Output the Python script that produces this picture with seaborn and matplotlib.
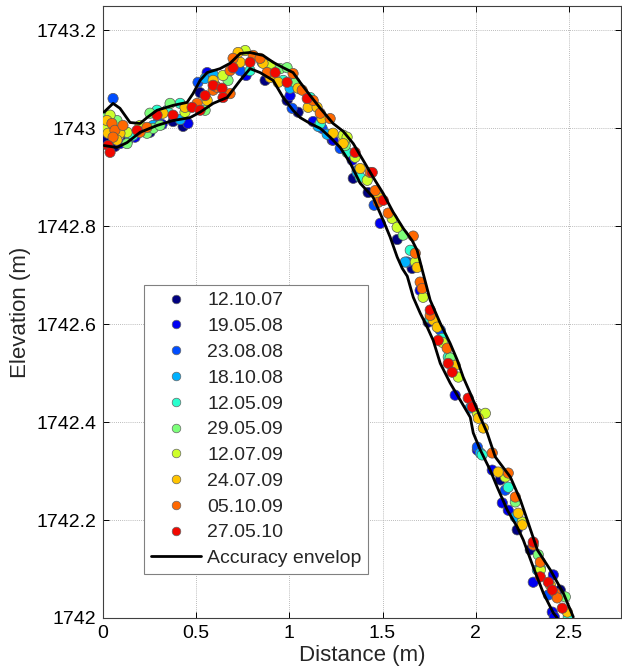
import numpy as np
import pandas as pd
import seaborn as sns
import matplotlib.pyplot as plt
from matplotlib.lines import Line2D
from matplotlib.ticker import FuncFormatter

dates = ['12.10.07', '19.05.08', '23.08.08', '18.10.08', '12.05.09',
         '29.05.09', '12.07.09', '24.07.09', '05.10.09', '27.05.10']

# survey points, one pair of lists per date
x_121007 = [0.016, 0.064, 0.134, 0.252, 0.376, 0.430, 0.521, 0.870, 0.988, 1.047,
            1.230, 1.343, 1.423, 1.579, 1.659, 1.745, 2.132, 2.223, 2.293, 2.454]
y_121007 = [1742.976, 1742.963, 1742.976, 1742.992, 1743.014, 1743.004, 1743.073, 1743.098, 1743.057, 1743.033,
            1742.976, 1742.898, 1742.869, 1742.773, 1742.714, 1742.604, 1742.282, 1742.180, 1742.139, 1742.057]

x_190508 = [0.091, 0.172, 0.317, 0.456, 0.559, 0.768, 1.004, 1.128, 1.235, 1.337, 1.488,
            1.702, 1.890, 2.009, 2.089, 2.143, 2.175, 2.309, 2.417, 2.411, 2.422]
y_190508 = [1742.969, 1742.982, 1743.008, 1743.010, 1743.114, 1743.108, 1743.067, 1743.014, 1742.976, 1742.935, 1742.806,
            1742.669, 1742.455, 1742.343, 1742.302, 1742.235, 1742.220, 1742.073, 1742.088, 1742.012, 1742.002]

x_230808 = [0.054, 0.124, 0.295, 0.510, 0.736, 1.015, 1.176, 1.273, 1.364, 1.455,
            1.633, 1.810, 2.009, 2.159, 2.390]
y_230808 = [1743.061, 1742.992, 1743.012, 1743.094, 1743.118, 1743.041, 1743.000, 1742.959, 1742.914, 1742.843,
            1742.727, 1742.588, 1742.349, 1742.261, 1742.047]

x_181008 = [0.145, 0.269, 0.414, 0.548, 0.591, 0.854, 1.004, 1.155, 1.203, 1.364,
            1.622, 1.767, 1.971, 2.025, 2.213, 2.331]
y_181008 = [1742.982, 1743.006, 1743.018, 1743.102, 1743.110, 1743.135, 1743.082, 1743.004, 1742.988, 1742.910,
            1742.727, 1742.612, 1742.429, 1742.337, 1742.206, 1742.098]

x_120509 = [0.161, 0.290, 0.344, 0.414, 0.601, 0.789, 0.967, 1.112, 1.166, 1.310, 1.380,
            1.649, 1.756, 1.821, 1.853, 2.035, 2.175, 2.347, 2.497]
y_120509 = [1742.986, 1743.037, 1743.037, 1743.051, 1743.088, 1743.118, 1743.098, 1743.063, 1743.010, 1742.951, 1742.900,
            1742.751, 1742.612, 1742.571, 1742.533, 1742.333, 1742.267, 1742.102, 1742.002]

x_290509 = [0.003, 0.075, 0.129, 0.236, 0.269, 0.306, 0.252, 0.360, 0.548, 0.671,
            0.951, 0.988, 1.031, 1.300, 1.611, 1.863, 2.213, 2.336, 2.481]
y_290509 = [1743.022, 1743.016, 1742.969, 1742.990, 1743.000, 1743.006, 1743.031, 1743.051, 1743.037, 1743.098,
            1743.122, 1743.124, 1743.094, 1742.965, 1742.782, 1742.531, 1742.237, 1742.129, 1742.043]

x_120709 = [0.038, 0.011, 0.129, 0.199, 0.440, 0.644, 0.763, 0.897, 1.289, 1.310, 1.353,
            1.418, 1.552, 1.579, 1.676, 1.718, 1.821, 1.907, 2.009, 2.052, 2.159, 2.250, 2.347]
y_120709 = [1743.027, 1743.002, 1742.992, 1743.006, 1743.033, 1743.108, 1743.159, 1743.129, 1742.986, 1742.982, 1742.941,
            1742.894, 1742.816, 1742.798, 1742.727, 1742.655, 1742.563, 1742.492, 1742.418, 1742.418, 1742.288, 1742.196, 1742.098]

x_240709 = [0.021, 0.027, 0.091, 0.075, 0.322, 0.440, 0.559, 0.591, 0.736, 0.725, 0.859,
            0.897, 0.940, 1.047, 1.101, 1.149, 1.176, 1.235, 1.289, 1.380, 1.477, 1.686,
            1.772, 1.794, 1.890, 2.014, 2.041, 2.121, 2.229, 2.250, 2.401, 2.492]
y_240709 = [1743.016, 1742.990, 1742.990, 1742.976, 1743.031, 1743.043, 1743.057, 1743.098, 1743.135, 1743.155, 1743.133,
            1743.104, 1743.094, 1743.082, 1743.043, 1743.043, 1743.020, 1742.990, 1742.969, 1742.918, 1742.859, 1742.716,
            1742.608, 1742.594, 1742.516, 1742.408, 1742.388, 1742.298, 1742.214, 1742.190, 1742.067, 1742.012]

x_051009 = [0.048, 0.064, 0.054, 0.107, 0.199, 0.236, 0.505, 0.591, 0.612, 0.682, 0.682,
            0.698, 0.806, 0.843, 0.881, 1.020, 1.069, 1.128, 1.166, 1.219, 1.434, 1.461,
            1.477, 1.531, 1.665, 1.676, 1.702, 1.713, 1.756, 1.847, 2.089, 2.175, 2.213,
            2.309, 2.347, 2.427, 2.438]
y_051009 = [1743.010, 1742.996, 1742.982, 1743.006, 1742.992, 1743.002, 1743.051, 1743.078, 1743.084, 1743.071, 1743.118,
            1743.143, 1743.149, 1743.143, 1743.114, 1743.112, 1743.078, 1743.057, 1743.031, 1743.020, 1742.910, 1742.873,
            1742.849, 1742.827, 1742.780, 1742.745, 1742.686, 1742.673, 1742.618, 1742.551, 1742.337, 1742.296, 1742.247,
            1742.149, 1742.114, 1742.051, 1742.041]

x_270510 = [0.027, 0.038, 0.183, 0.290, 0.376, 0.478, 0.521, 0.548, 0.591, 0.639, 0.644,
            0.698, 0.789, 0.924, 0.988, 1.096, 1.353, 1.445, 1.504, 1.756, 1.799, 1.853,
            1.874, 1.960, 1.982, 2.309, 2.347, 2.390, 2.411, 2.465]
y_270510 = [1742.965, 1742.951, 1742.996, 1743.027, 1743.027, 1743.043, 1743.037, 1743.067, 1743.088, 1743.082, 1743.063,
            1743.124, 1743.135, 1743.114, 1743.094, 1743.061, 1742.951, 1742.910, 1742.853, 1742.629, 1742.567, 1742.520,
            1742.502, 1742.449, 1742.431, 1742.155, 1742.084, 1742.073, 1742.057, 1742.020]

# accuracy envelope (upper and lower bound)
env_up_x = [0.005, 0.054, 0.091, 0.145, 0.199, 0.236, 0.290, 0.376, 0.451, 0.483, 0.521, 0.559,
            0.628, 0.682, 0.736, 0.789, 0.859, 0.913, 0.967, 1.020, 1.058, 1.112, 1.166, 1.235,
            1.289, 1.343, 1.396, 1.450, 1.504, 1.557, 1.611, 1.659, 1.686, 1.718, 1.756, 1.810,
            1.863, 1.901, 1.933, 1.971, 2.025, 2.062, 2.105, 2.186, 2.240, 2.277, 2.331, 2.401,
            2.470, 2.524]
env_up_y = [1743.033, 1743.051, 1743.041, 1743.012, 1743.010, 1743.022, 1743.037, 1743.047, 1743.053, 1743.071,
            1743.098, 1743.114, 1743.122, 1743.133, 1743.153, 1743.155, 1743.149, 1743.135, 1743.124, 1743.114,
            1743.094, 1743.067, 1743.041, 1743.010, 1742.994, 1742.969, 1742.935, 1742.900, 1742.867, 1742.829,
            1742.796, 1742.771, 1742.751, 1742.704, 1742.649, 1742.602, 1742.561, 1742.527, 1742.492, 1742.459,
            1742.410, 1742.378, 1742.329, 1742.288, 1742.241, 1742.200, 1742.139, 1742.098, 1742.051, 1742.002]

env_lo_x = [0.005, 0.075, 0.129, 0.199, 0.290, 0.376, 0.467, 0.521, 0.591, 0.666, 0.736, 0.789,
            0.843, 0.913, 0.967, 1.020, 1.058, 1.112, 1.166, 1.219, 1.273, 1.327, 1.380, 1.450,
            1.504, 1.541, 1.579, 1.606, 1.633, 1.665, 1.703, 1.740, 1.772, 1.810, 1.863, 1.917,
            1.971, 1.987, 2.025, 2.078, 2.116, 2.170, 2.223, 2.256, 2.309, 2.363, 2.417, 2.438]
env_lo_y = [1742.965, 1742.961, 1742.971, 1742.992, 1743.006, 1743.016, 1743.022, 1743.033, 1743.051, 1743.063,
            1743.098, 1743.122, 1743.114, 1743.098, 1743.063, 1743.037, 1743.022, 1743.010, 1743.000, 1742.982,
            1742.961, 1742.929, 1742.888, 1742.859, 1742.812, 1742.778, 1742.737, 1742.714, 1742.698, 1742.655,
            1742.622, 1742.594, 1742.567, 1742.520, 1742.480, 1742.445, 1742.410, 1742.378, 1742.343, 1742.302,
            1742.267, 1742.220, 1742.186, 1742.159, 1742.104, 1742.051, 1742.010, 1742.000]

xs = [x_121007, x_190508, x_230808, x_181008, x_120509, x_290509, x_120709, x_240709, x_051009, x_270510]
ys = [y_121007, y_190508, y_230808, y_181008, y_120509, y_290509, y_120709, y_240709, y_051009, y_270510]

rows = []
for d, xv, yv in zip(dates, xs, ys):
    for a, b in zip(xv, yv):
        rows.append((d, a, b))
df = pd.DataFrame(rows, columns=['date', 'distance', 'elevation'])

colors = [plt.cm.jet(v) for v in np.linspace(0.0, 0.9, len(dates))]
palette = dict(zip(dates, colors))

sns.set_style('ticks')
plt.rcParams['font.family'] = ['Liberation Sans', 'DejaVu Sans']

fig = plt.figure(figsize=(6.22, 6.72), dpi=100)
ax = fig.add_axes([0.1656, 0.0804, 0.8328, 0.9107])

sns.scatterplot(data=df, x='distance', y='elevation', hue='date', hue_order=dates,
                palette=palette, s=55, edgecolor='0.35', linewidth=0.5,
                legend=False, ax=ax, zorder=3)

ax.plot(env_up_x, env_up_y, color='black', lw=2.0, zorder=4)
ax.plot(env_lo_x, env_lo_y, color='black', lw=2.0, zorder=4)

ax.set_xlim(0, 2.78)
ax.set_ylim(1742, 1743.25)
ax.set_xticks([0, 0.5, 1, 1.5, 2, 2.5])
ax.set_yticks([1742, 1742.2, 1742.4, 1742.6, 1742.8, 1743, 1743.2])
ax.xaxis.set_major_formatter(FuncFormatter(lambda v, p: f'{v:g}'))
ax.yaxis.set_major_formatter(FuncFormatter(lambda v, p: f'{round(v, 1):g}'))

ax.grid(True, linestyle=(0, (1, 1.5)), color='0.65', linewidth=0.6)
ax.set_axisbelow(True)
ax.tick_params(direction='in', length=4, width=0.7, top=True, right=True,
               labelsize=14, colors='black', pad=5)
for sp in ax.spines.values():
    sp.set_visible(True)
    sp.set_color('0.25')
    sp.set_linewidth(0.8)

ax.set_xlabel('Distance (m)', fontsize=16, labelpad=2)
ax.set_ylabel('Elevation (m)', fontsize=16, labelpad=4)

handles = [Line2D([], [], ls='none', marker='o', markersize=6.2, markerfacecolor=c,
                  markeredgecolor='0.4', markeredgewidth=0.5) for c in colors]
handles.append(Line2D([], [], color='black', lw=2.0))
labels = dates + ['Accuracy envelop']
leg = ax.legend(handles, labels, loc='upper left', bbox_to_anchor=(0.079, 0.544),
                borderaxespad=0, fontsize=14, frameon=True, fancybox=False,
                framealpha=1, edgecolor='0.5', labelspacing=0.42, handlelength=2.6,
                handletextpad=0.3, borderpad=0.35)
leg.get_frame().set_linewidth(0.8)

fig.savefig('out.png', dpi=100)
